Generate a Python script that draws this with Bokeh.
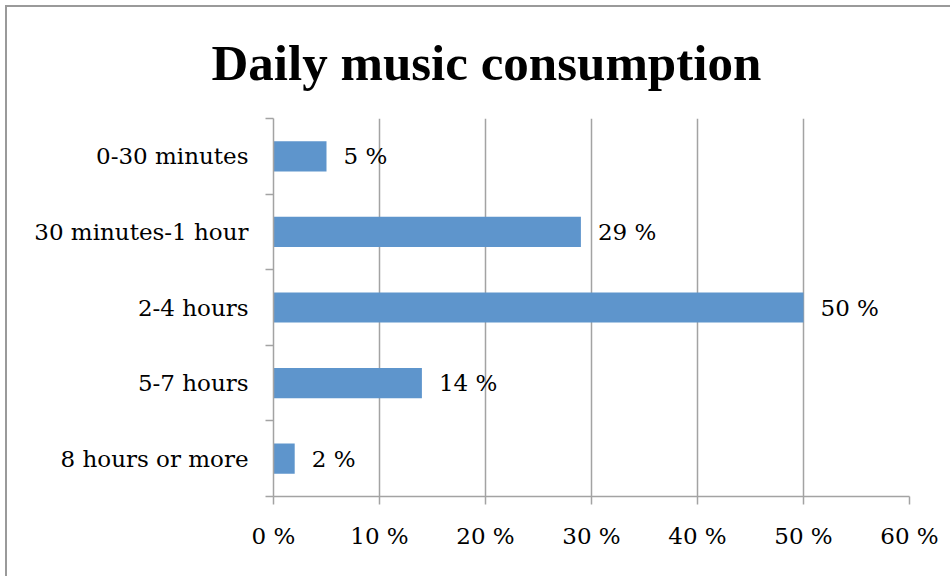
from bokeh.plotting import figure
from bokeh.models import FixedTicker, ColumnDataSource, Title, Range1d
from bokeh.embed import file_html
from bokeh.resources import INLINE
from bokeh.core.properties import value

# ---- data ----
categories = ["0-30 minutes", "30 minutes-1 hour", "2-4 hours", "5-7 hours", "8 hours or more"]
percentages = [5, 29, 50, 14, 2]
x_ticks = [0, 10, 20, 30, 40, 50, 60]
x_tick_labels = ["0 %", "10 %", "20 %", "30 %", "40 %", "50 %", "60 %"]
title_text = "Daily music consumption"

n = len(categories)
ys = [n - i - 0.5 for i in range(n)]
bar_labels = [f"{v} %" for v in percentages]
src = ColumnDataSource(dict(y=ys, v=percentages, lab=bar_labels, cat=categories))

GREY = "#a3a3a3"
LABEL_FONT = "DejaVu Serif"

p = figure(
    width=945, height=571,
    x_range=Range1d(0, 60), y_range=Range1d(0, n),
    output_backend="svg", toolbar_location=None,
    min_border_left=266, min_border_right=43, min_border_top=111, min_border_bottom=82,
    margin=(5, 0, 0, 5),
    styles={"border-top": "2px solid #9a9a9a", "border-left": "2px solid #9a9a9a"},
)
p.outline_line_color = None
p.background_fill_color = "white"
p.border_fill_color = "white"

t = Title(text=title_text, align="left", offset=-62, standoff=52, vertical_align="top",
          text_font="Liberation Serif", text_font_style="bold",
          text_font_size="51px", text_color="black")
p.add_layout(t, "above")

p.hbar(y="y", right="v", left=0, height=0.4, source=src,
       fill_color="#5e95cc", line_color=None)

p.text(x="v", y="y", text="lab", source=src, x_offset=17,
       text_baseline="middle", text_align="left",
       text_font=value(LABEL_FONT), text_font_size="23px", text_color="black")

# x axis
xa = p.xaxis[0]
xa.ticker = FixedTicker(ticks=x_ticks, minor_ticks=[])
xa.major_label_overrides = {k: v for k, v in zip(x_ticks, x_tick_labels)}
xa.major_tick_out = 8
xa.major_tick_in = 0
xa.minor_tick_out = 0
xa.minor_tick_in = 0
xa.axis_line_color = GREY
xa.axis_line_width = 1.5
xa.major_tick_line_color = GREY
xa.major_tick_line_width = 1.5
xa.major_label_text_font = LABEL_FONT
xa.major_label_text_font_size = "23px"
xa.major_label_text_color = "black"
xa.major_label_standoff = 18

# y axis
ya = p.yaxis[0]
ya.ticker = FixedTicker(ticks=ys, minor_ticks=list(range(n + 1)))
ya.major_label_overrides = {y: c for y, c in zip(ys, categories)}
ya.major_tick_out = 0
ya.major_tick_in = 0
ya.minor_tick_out = 8
ya.minor_tick_in = 0
ya.axis_line_color = GREY
ya.axis_line_width = 1.5
ya.minor_tick_line_color = GREY
ya.minor_tick_line_width = 1.5
ya.major_label_text_font = LABEL_FONT
ya.major_label_text_font_size = "23px"
ya.major_label_text_color = "black"
ya.major_label_standoff = 17

p.xgrid.ticker = FixedTicker(ticks=x_ticks)
p.xgrid.grid_line_color = GREY
p.xgrid.grid_line_width = 1.5
p.ygrid.grid_line_color = None

open("out.html", "w").write(file_html(p, INLINE))
